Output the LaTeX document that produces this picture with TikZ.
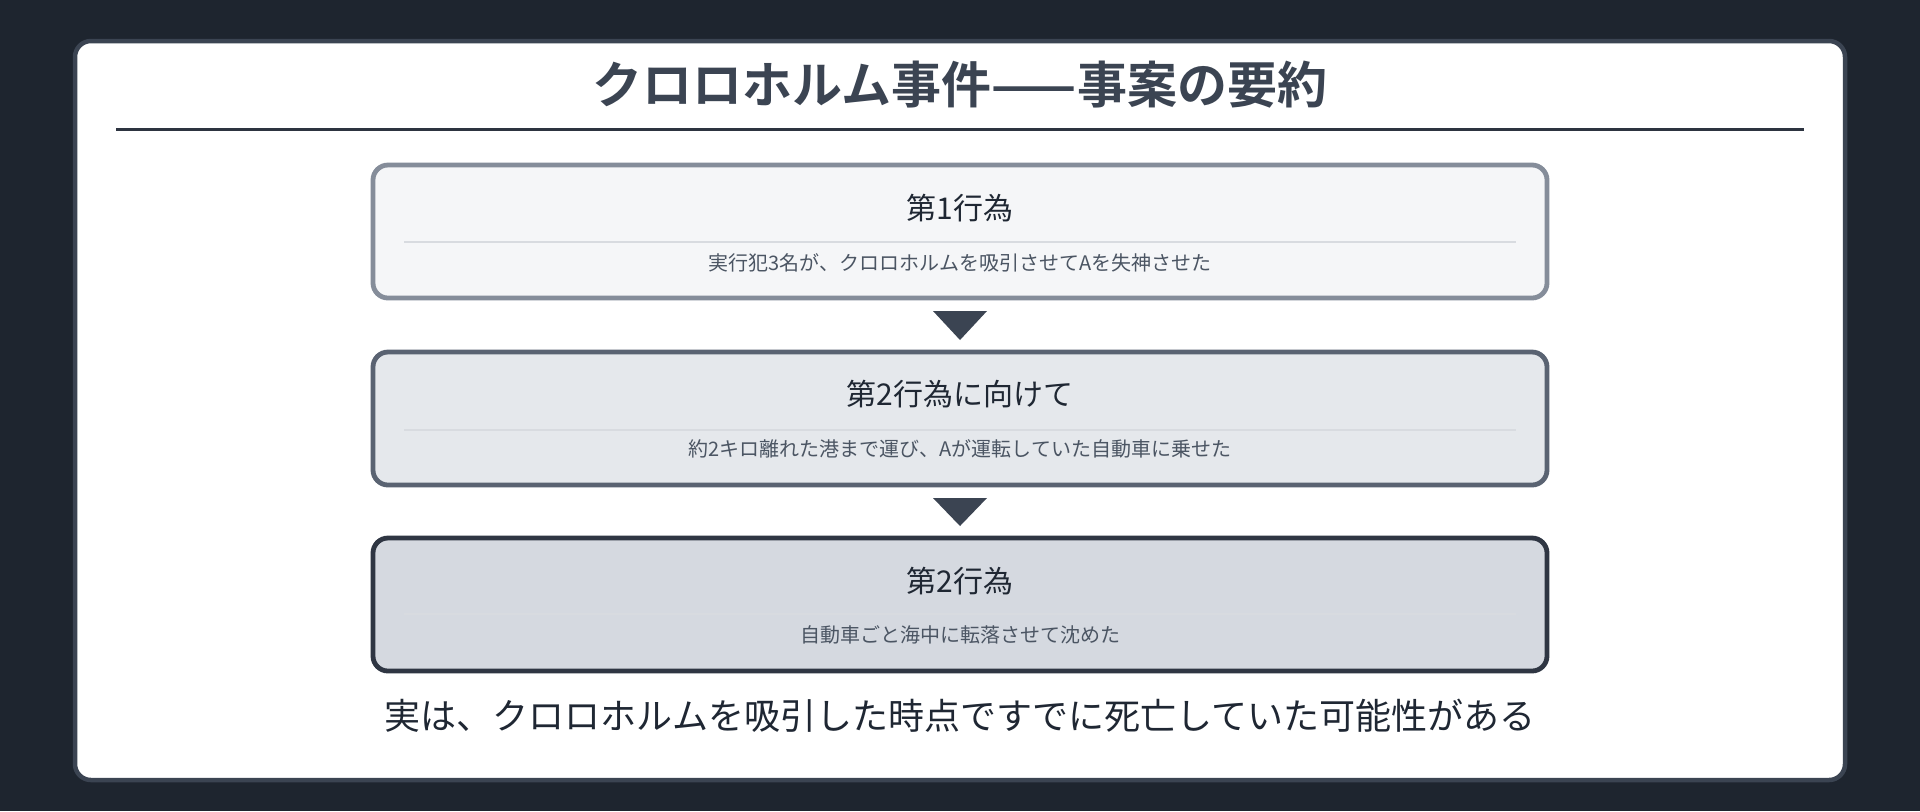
\documentclass[tikz,border=0pt]{standalone}
\usepackage{fontspec}
\setmainfont{Noto Sans CJK JP}[BoldFont={Noto Sans CJK JP Bold}]
\usepackage{tikz}
\usepackage{xcolor}
\usetikzlibrary{positioning}
\definecolor{pagebg}{HTML}{1E252F}
\definecolor{cardline}{HTML}{3B4452}
\definecolor{ruleline}{HTML}{2D3440}
\definecolor{actonel}{HTML}{858D9A}
\definecolor{actonef}{HTML}{F5F6F8}
\definecolor{acttwol}{HTML}{5A6372}
\definecolor{acttwof}{HTML}{E5E8EC}
\definecolor{actthreel}{HTML}{2F3643}
\definecolor{actthreef}{HTML}{D5D9E0}
\definecolor{divline}{HTML}{D8DBE0}
\definecolor{titletext}{HTML}{1F2733}
\definecolor{subtext}{HTML}{4B5563}
\tikzset{
  basic/.style     = {inner sep=0pt, outer sep=0pt},
  card/.style      = {draw=cardline, line width=2.25pt, fill=white, rounded corners=8pt},
  heading/.style   = {basic, text=cardline, font=\fontsize{25pt}{30pt}\selectfont\bfseries},
  act/.style       = {basic, draw, line width=2.4pt, rounded corners=7.5pt,
                      minimum width=587pt, minimum height=66.5pt},
  act 1/.style     = {act, draw=actonel, fill=actonef},
  act 2/.style     = {act, draw=acttwol, fill=acttwof},
  act 3/.style     = {act, draw=actthreel, fill=actthreef},
  act title/.style = {basic, text=titletext, font=\fontsize{15pt}{18pt}\selectfont},
  act text/.style  = {basic, text=subtext, font=\fontsize{10pt}{12pt}\selectfont},
  note/.style      = {basic, text=titletext, font=\fontsize{18pt}{22pt}\selectfont},
  divider/.style   = {draw=divline, line width=1pt},
  pointer/.style   = {fill=cardline}
}

\begin{document}
\begin{tikzpicture}[x=0.5pt, y=-0.5pt]
\useasboundingbox (0,0) rectangle (1920,811);
\fill[pagebg] (0,0) rectangle (1920,811);
% the white card and its heading
\draw[card] (75,41) rectangle (1845,780);
\node[heading] (heading) at (960,85) {クロロホルム事件——事案の要約};
\draw[ruleline, line width=1.5pt] (116,129) -- (1804,129);
% the three acts, one below the other
\node[act 1] (b1) at (960,231.5) {};
\node[act 2, below=27pt of b1] (b2) {};
\node[act 3, below=26.5pt of b2] (b3) {};
% texts of each act
\node[act title] (t1) at ([yshift=11.75pt]b1.center) {第1行為};
\draw[divider] ([xshift=15.5pt,yshift=-5.25pt]b1.west) -- ([xshift=-15.5pt,yshift=-5.25pt]b1.east);
\node[act text] (s1) at ([yshift=-15.75pt]b1.center) {実行犯3名が、クロロホルムを吸引させてAを失神させた};
\node[act title] (t2) at ([yshift=12pt]b2.center) {第2行為に向けて};
\draw[divider] ([xshift=15.5pt,yshift=-5.5pt]b2.west) -- ([xshift=-15.5pt,yshift=-5.5pt]b2.east);
\node[act text] (s2) at ([yshift=-15pt]b2.center) {約2キロ離れた港まで運び、Aが運転していた自動車に乗せた};
\node[act title] (t3) at ([yshift=11.75pt]b3.center) {第2行為};
\draw[divider] ([xshift=15.5pt,yshift=-4.75pt]b3.west) -- ([xshift=-15.5pt,yshift=-4.75pt]b3.east);
\node[act text] (s3) at ([yshift=-15.25pt]b3.center) {自動車ごと海中に転落させて沈めた};
% pointers between the acts
\fill[pointer] ([xshift=-13.5pt,yshift=-6.5pt]b1.south) -- ([xshift=13.5pt,yshift=-6.5pt]b1.south) -- ([yshift=6pt]b2.north) -- cycle;
\fill[pointer] ([xshift=-13.5pt,yshift=-6.5pt]b2.south) -- ([xshift=13.5pt,yshift=-6.5pt]b2.south) -- ([yshift=6pt]b3.north) -- cycle;
% closing remark
\node[note] (verdict) at ([yshift=-22.5pt]b3.south) {実は、クロロホルムを吸引した時点ですでに死亡していた可能性がある};
\end{tikzpicture}
\end{document}
